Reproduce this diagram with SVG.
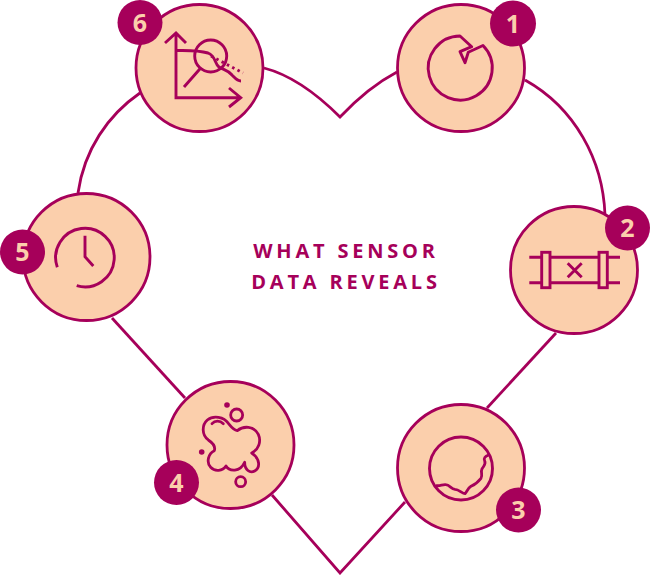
<svg xmlns="http://www.w3.org/2000/svg" width="650" height="575" viewBox="0 0 650 575">
<style>
.ln{fill:none;stroke:#a6005a;stroke-width:2.8}
.ic{fill:none;stroke:#a6005a;stroke-width:2.9}
.z{fill:none;stroke:#a6005a;stroke-width:8.400;stroke-linejoin:round;stroke-linecap:round}
.c{fill:#fbcfac;stroke:#a6005a;stroke-width:2.8}
.b{fill:#a6005a}
.d{fill:#a6005a;stroke:none}
.n{font-family:"Open Sans","Liberation Sans",sans-serif;font-weight:700;font-size:25px;fill:#fbcfac;text-anchor:middle}
.t{font-family:"Open Sans","Liberation Sans",sans-serif;font-weight:700;font-size:20px;letter-spacing:3.800px;fill:#a6005a;text-anchor:middle}
</style>
<rect width="650" height="575" fill="#fff"/>
<g id="connectors">
<path class="ln" d="M264 68C295 76 320 97 340 117C358 98 378 82 397 72"/>
<path class="ln" d="M525 80C575 108 603 160 605 215"/>
<path class="ln" d="M556 333L487 408"/>
<path class="ln" d="M405 502L340 573L272 495"/>
<path class="ln" d="M185 398L112 318"/>
<path class="ln" d="M78 193C84 150 108 115 140 93"/>
</g>
<g id="node-1">
<circle class="c" cx="461" cy="68" r="63.500"/>
<path class="ic" stroke-linejoin="round" d="M483 45.500A32 32 0 1 1 460 36L471.700 46.700L460 51.700L465 62.700L468.300 52.300Z"/>
<circle class="b" cx="513" cy="23.500" r="23"/>
<text class="n" x="513" y="33">1</text>
</g>
<g id="node-2">
<circle class="c" cx="574" cy="270" r="63.500"/>
<path class="ic" d="M529.300 257.300H541.700M550 257.300H599M607.300 257.300H620M529.300 282.700H541.700M550 282.700H599M607.300 282.700H620M567.700 263.300L581.700 277.300M581.700 263.300L567.700 277.300"/>
<rect class="ic" x="541.700" y="252.300" width="8.300" height="35.400"/>
<rect class="ic" x="599" y="252.300" width="8.300" height="35.400"/>
<circle class="b" cx="627.500" cy="228" r="22.500"/>
<text class="n" x="627.500" y="237">2</text>
</g>
<g id="node-3">
<circle class="c" cx="461" cy="468" r="63.500"/>
<circle class="ic" cx="461" cy="468.500" r="31.500"/>
<g transform="translate(385 395) scale(.3333)">
<path class="z" d="M155 272C165 274 172 268 182 269C195 270 198 282 210 283C222 283 232 296 240 296C246 290 248 280 258 274C272 268 280 260 288 250C294 240 286 232 291 222C296 212 304 208 299 198C295 190 300 184 311 180"/>
</g>
<circle class="b" cx="518.500" cy="510" r="22.500"/>
<text class="n" x="518.500" y="519">3</text>
</g>
<g id="node-4">
<circle class="c" cx="230.500" cy="445" r="63.500"/>
<g transform="translate(150 375) scale(.3333)">
<path class="z" d="M193 227C175 235 168 262 182 277C195 291 218 288 228 273C238 290 270 292 284 262C284 285 300 296 314 288C332 278 330 250 305 234C325 225 335 200 325 178C312 152 280 152 262 167C250 165 243 155 235 145C222 125 190 120 172 135C155 150 155 180 175 195C190 205 197 215 193 227Z"/>
<path class="z" d="M186 146C195 136 210 136 220 146"/>
<circle class="z" cx="260" cy="120" r="18"/>
<circle class="z" cx="272" cy="320" r="15"/>
</g>
<circle class="d" cx="227" cy="405" r="2.800"/>
<circle class="d" cx="201.700" cy="452" r="2.800"/>
<circle class="b" cx="176.500" cy="482.500" r="22.500"/>
<text class="n" x="176.500" y="491.500">4</text>
</g>
<g id="node-5">
<circle class="c" cx="86.500" cy="257" r="63.500"/>
<path class="ic" d="M57.300 267.300A29.300 29.300 0 1 1 76.700 285.700M85 235.700V256.700L93.300 266"/>
<circle class="b" cx="22.500" cy="252" r="22.500"/>
<text class="n" x="22.500" y="261">5</text>
</g>
<g id="node-6">
<circle class="c" cx="199.500" cy="68" r="63.500"/>
<path class="ic" d="M165 43L176 33L186 43M176 33V97.700H240.700M229 88L240.700 97.700L229 107M176 50.500C190 50.500 198 50 208 53C216 56 214 63 219 67C224 70 228 70 232 75C235 78 237 81 241 81M184 87L200.700 68"/>
<circle class="ic" cx="210.700" cy="56" r="16"/>
<path class="ic" stroke-dasharray="2.500 3.500" d="M211 56L243 73"/>
<circle class="b" cx="140" cy="22.500" r="22.500"/>
<text class="n" x="140" y="31.500">6</text>
</g>
<g id="title">
<text class="t" x="346" y="258">WHAT SENSOR</text>
<text class="t" x="346" y="289">DATA REVEALS</text>
</g>
</svg>
